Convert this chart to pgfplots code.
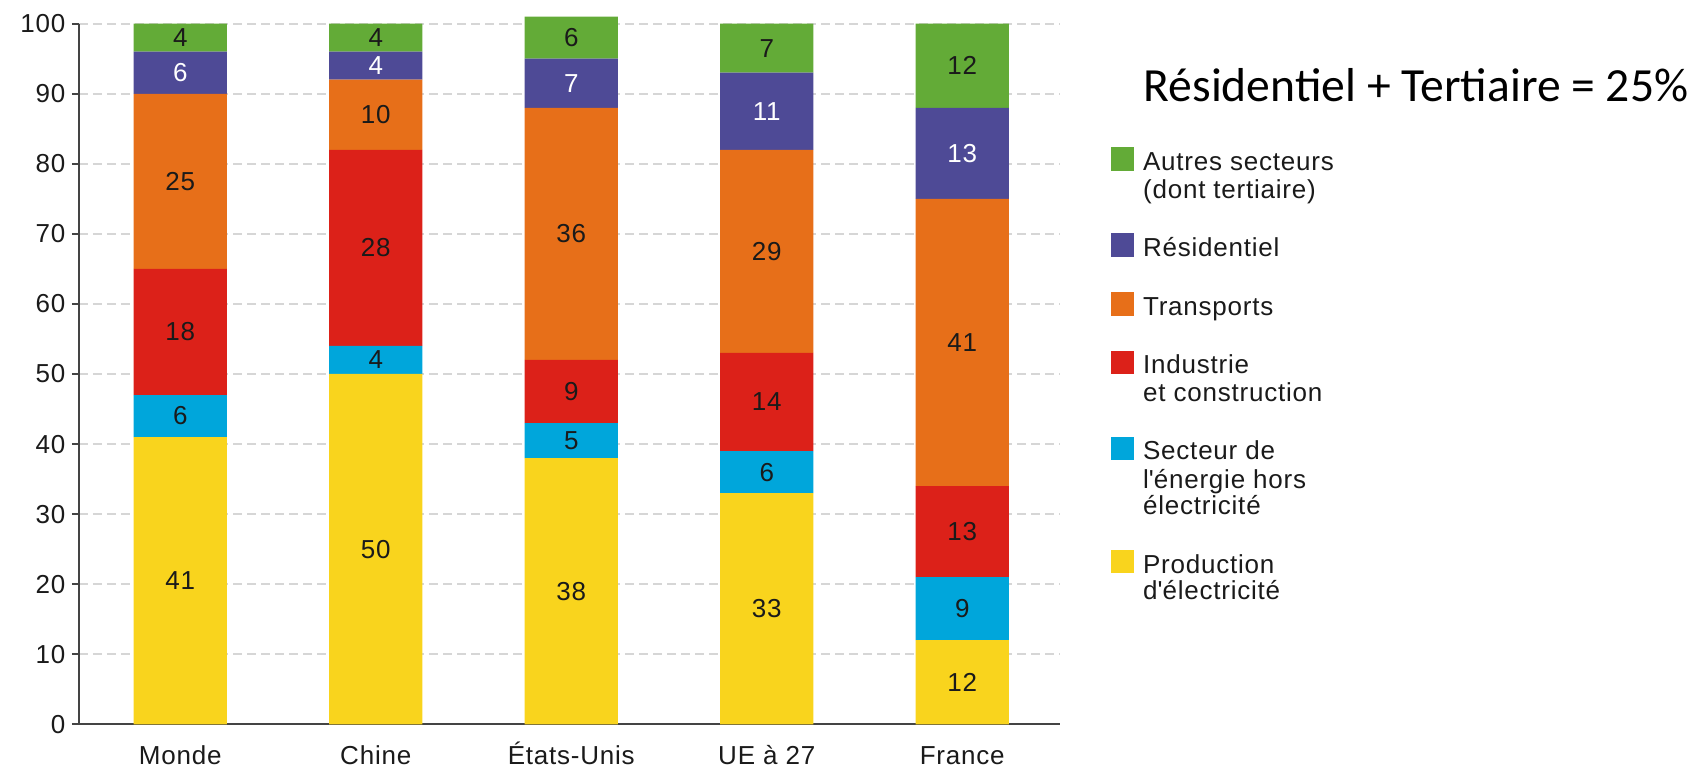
\documentclass[border=0pt]{standalone}
\usepackage{fontspec}
\setmainfont{Liberation Sans}[LetterSpace=3]
\newfontfamily\titlefont{Carlito}
\usepackage{pgfplots}
\usepackage{pgfplotstable}
\pgfplotsset{compat=1.18}

% sector colours
\definecolor{cAutres}{HTML}{63AB37}
\definecolor{cResid}{HTML}{4E4A96}
\definecolor{cTransp}{HTML}{E76F19}
\definecolor{cIndus}{HTML}{DC2119}
\definecolor{cEnerg}{HTML}{00A6DB}
\definecolor{cProd}{HTML}{F9D41D}
\definecolor{axisgray}{HTML}{444444}
\definecolor{gridgray}{HTML}{D6D6D6}
\definecolor{txt}{HTML}{1A1A1A}

% CO2 emissions by sector (%)
\pgfplotstableread{
x prod energ indus transp resid autres
0 41 6 18 25 6 4
1 50 4 28 10 4 4
2 38 5 9 36 7 6
3 33 6 14 29 11 7
4 12 9 13 41 13 12
}\emissions

\pgfplotsset{
  % stacked segment with its value written in the middle
  segment/.style n args={2}{% fill colour, label colour
    fill=#1, draw=none,
    nodes near coords,
    point meta=explicit,
    every node near coord/.append style={anchor=center, inner sep=0pt, text=#2},
  },
}

\begin{document}
\begin{tikzpicture}[font=\fontsize{13pt}{14.2pt}\selectfont, text=txt]
\begin{axis}[
  scale only axis, width=490.5pt, height=350.3pt,
  xmin=-0.518, xmax=4.5, ymin=0, ymax=100,
  ybar stacked, bar width=46.65pt,
  axis lines=left,
  axis line style={-, draw=axisgray, line width=0.9pt},
  xtick={0,...,4},
  xticklabels={Monde, Chine, États-Unis, UE à 27, France},
  ytick={0,10,...,100},
  tick align=outside, major tick length=3.5pt,
  x tick style={draw=none},
  y tick style={draw=axisgray, line width=0.9pt},
  ymajorgrids,
  major grid style={draw=gridgray, line width=0.9pt, dash pattern=on 4.7pt off 2.3pt},
  tick label style={font=\fontsize{13pt}{14.2pt}\selectfont},
  xticklabel style={anchor=base, inner sep=0pt, yshift=-16.5pt},
  yticklabel style={anchor=east, inner sep=0pt, xshift=-3.15pt},
  /pgf/number format/assume math mode=true,
  clip mode=individual,
]
\addplot[segment={cProd}{txt}]    table[x=x, y=prod,   meta=prod]   {\emissions};
\addplot[segment={cEnerg}{txt}]   table[x=x, y=energ,  meta=energ]  {\emissions};
\addplot[segment={cIndus}{txt}]   table[x=x, y=indus,  meta=indus]  {\emissions};
\addplot[segment={cTransp}{txt}]  table[x=x, y=transp, meta=transp] {\emissions};
\addplot[segment={cResid}{white}] table[x=x, y=resid,  meta=resid]  {\emissions};
% top segment: rounded shares of a column may add up to 101
\addplot[segment={cAutres}{txt}, clip=false] table[x=x, y=autres, meta=autres] {\emissions};
% baseline drawn again over the bars
\draw[axisgray, line width=0.9pt] (rel axis cs:0,0) -- (rel axis cs:1,0);
\end{axis}

% headline
\node[anchor=base west, inner sep=0pt, text=black,
      font=\titlefont\fontsize{23.8pt}{28pt}\selectfont]
  at (532.15pt,311.15pt) {Résidentiel + Tertiaire = 25\%};

% legend
\fill[cAutres] (515.85pt,276.8pt) rectangle (527.5pt,288.5pt);
\node[anchor=base west, inner sep=0pt] at (531.85pt,276.8pt) {Autres secteurs};
\node[anchor=base west, inner sep=0pt] at (531.85pt,263.0pt) {(dont tertiaire)};

\fill[cResid] (515.85pt,233.8pt) rectangle (527.5pt,245.5pt);
\node[anchor=base west, inner sep=0pt] at (531.85pt,233.8pt) {Résidentiel};

\fill[cTransp] (515.85pt,204.3pt) rectangle (527.5pt,216.0pt);
\node[anchor=base west, inner sep=0pt] at (531.85pt,204.3pt) {Transports};

\fill[cIndus] (515.85pt,175.15pt) rectangle (527.5pt,186.8pt);
\node[anchor=base west, inner sep=0pt] at (531.85pt,175.15pt) {Industrie};
\node[anchor=base west, inner sep=0pt] at (531.85pt,161.3pt) {et construction};

\fill[cEnerg] (515.85pt,132.15pt) rectangle (527.5pt,143.8pt);
\node[anchor=base west, inner sep=0pt] at (531.85pt,132.15pt) {Secteur de};
\node[anchor=base west, inner sep=0pt] at (531.85pt,118.0pt) {l\textquotesingle énergie hors};
\node[anchor=base west, inner sep=0pt] at (531.85pt,104.65pt) {électricité};

\fill[cProd] (515.85pt,75.5pt) rectangle (527.5pt,87.15pt);
\node[anchor=base west, inner sep=0pt] at (531.85pt,75.5pt) {Production};
\node[anchor=base west, inner sep=0pt] at (531.85pt,62.15pt) {d\textquotesingle électricité};

\pgfresetboundingbox
\path[use as bounding box] (-39.5pt,-23.35pt) rectangle (809.5pt,362.15pt);
\end{tikzpicture}
\end{document}
